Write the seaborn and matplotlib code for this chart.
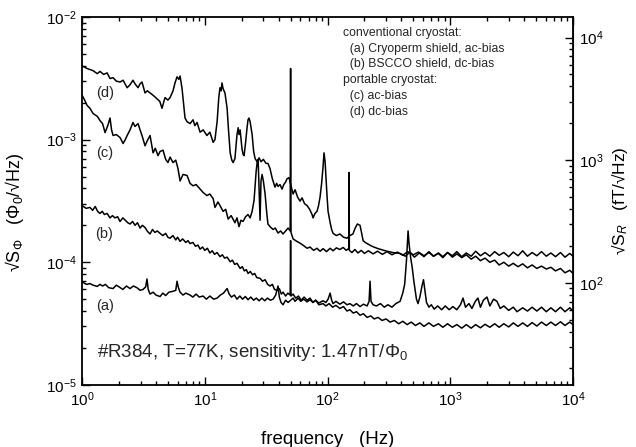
import matplotlib
matplotlib.use("Agg")
import matplotlib.pyplot as plt
import pandas as pd
import seaborn as sns

# flux noise spectra: (frequency [Hz], sqrt(S_phi) [Phi0/sqrt(Hz)])
SENS_FT = 1.47e6  # fT per Phi0 (1.47 nT/Phi0)

spec_a = [
    (1.00, 7.0e-5), (1.05, 6.7e-5), (1.10, 6.6e-5), (1.16, 6.7e-5), (1.23, 6.5e-5),
    (1.33, 6.35e-5), (1.40, 6.6e-5), (1.47, 6.4e-5), (1.55, 6.6e-5), (1.65, 6.2e-5),
    (1.79, 6.1e-5), (1.90, 6.5e-5), (2.00, 6.3e-5), (2.15, 6.0e-5), (2.30, 6.4e-5),
    (2.46, 6.1e-5), (2.62, 6.4e-5), (2.80, 6.2e-5), (2.97, 5.9e-5), (3.14, 6.0e-5),
    (3.30, 6.3e-5), (3.38, 7.3e-5), (3.46, 6.0e-5), (3.58, 5.5e-5), (3.80, 5.7e-5),
    (4.00, 5.4e-5), (4.32, 5.25e-5), (4.55, 5.6e-5), (4.80, 5.35e-5), (5.10, 5.7e-5),
    (5.51, 5.8e-5), (5.80, 5.9e-5), (5.94, 7.0e-5), (6.10, 6.2e-5), (6.29, 5.7e-5),
    (6.65, 5.4e-5), (7.00, 5.6e-5), (7.58, 5.4e-5), (8.00, 5.2e-5), (8.50, 5.5e-5),
    (9.00, 5.2e-5), (9.68, 5.3e-5), (10.3, 5.0e-5), (11.0, 5.3e-5), (11.8, 5.0e-5),
    (12.6, 5.1e-5), (13.4, 5.4e-5), (14.2, 5.6e-5), (15.2, 6.1e-5), (15.8, 5.5e-5),
    (16.5, 5.2e-5), (17.4, 5.4e-5), (18.3, 5.0e-5), (19.3, 5.3e-5), (20.3, 5.0e-5),
    (21.4, 5.25e-5), (22.5, 4.95e-5), (23.7, 5.2e-5), (25.0, 4.9e-5), (26.3, 5.1e-5),
    (27.7, 4.85e-5), (29.2, 5.1e-5), (30.8, 4.85e-5), (32.4, 5.1e-5), (34.2, 4.9e-5),
    (36.0, 5.0e-5), (37.8, 5.4e-5), (39.5, 6.4e-5), (40.5, 5.2e-5), (41.8, 4.7e-5),
    (43.4, 4.5e-5), (45.5, 4.9e-5), (47.7, 4.7e-5), (50.0, 4.9e-5), (52.4, 5.1e-5),
    (54.4, 4.8e-5), (57.5, 5.1e-5), (60.5, 4.8e-5), (64.0, 5.0e-5), (68.1, 4.75e-5),
    (72.0, 4.95e-5), (76.0, 4.7e-5), (80.0, 4.9e-5), (85.0, 4.65e-5), (91.9, 4.85e-5),
    (97.0, 4.7e-5), (101, 5.0e-5), (105, 5.6e-5), (108, 4.9e-5), (111, 4.6e-5),
    (117, 4.8e-5), (126, 4.55e-5), (135, 4.75e-5), (144, 4.5e-5), (152, 4.6e-5),
    (162, 4.4e-5), (172, 4.6e-5), (184, 4.35e-5), (196, 4.55e-5), (210, 4.4e-5),
    (218, 4.8e-5), (222, 7.0e-5), (226, 4.8e-5), (235, 4.5e-5), (250, 4.4e-5),
    (270, 4.6e-5), (290, 4.3e-5), (310, 4.5e-5), (335, 4.3e-5), (360, 4.6e-5),
    (390, 4.8e-5), (410, 5.6e-5), (425, 6.6e-5), (440, 1.05e-4), (453, 1.8e-4),
    (462, 1.4e-4), (475, 1.1e-4), (490, 9.0e-5), (505, 7.0e-5), (516, 6.0e-5),
    (530, 5.0e-5), (546, 4.6e-5), (565, 5.2e-5), (590, 6.5e-5), (605, 7.2e-5),
    (620, 6.0e-5), (640, 4.7e-5), (670, 4.3e-5), (700, 4.5e-5), (740, 4.15e-5),
    (790, 4.4e-5), (850, 4.1e-5), (910, 4.4e-5), (980, 4.1e-5), (1050, 4.35e-5),
    (1130, 4.1e-5), (1210, 4.5e-5), (1270, 5.1e-5), (1330, 4.3e-5), (1420, 4.6e-5),
    (1500, 4.2e-5), (1600, 4.8e-5), (1680, 5.1e-5), (1760, 4.3e-5), (1860, 4.9e-5),
    (1990, 5.2e-5), (2100, 4.4e-5), (2250, 5.0e-5), (2400, 4.8e-5), (2550, 4.2e-5),
    (2730, 4.4e-5), (2990, 4.05e-5), (3260, 4.3e-5), (3500, 3.95e-5), (3890, 4.25e-5),
    (4250, 4.0e-5), (4640, 4.3e-5), (5070, 4.0e-5), (5540, 4.3e-5), (6050, 3.95e-5),
    (6600, 4.25e-5), (7200, 3.95e-5), (7900, 4.3e-5), (8600, 3.95e-5), (9400, 4.25e-5),
    (10000, 4.0e-5),
]

spec_b = [
    (1.00, 2.9e-4), (1.08, 2.75e-4), (1.16, 2.8e-4), (1.22, 2.65e-4), (1.28, 2.85e-4),
    (1.34, 2.6e-4), (1.40, 2.5e-4), (1.46, 2.6e-4), (1.52, 2.45e-4), (1.60, 2.5e-4),
    (1.69, 2.3e-4), (1.77, 2.4e-4), (1.85, 2.3e-4), (1.95, 2.35e-4), (2.04, 2.15e-4),
    (2.15, 2.3e-4), (2.25, 2.2e-4), (2.36, 2.1e-4), (2.46, 2.05e-4), (2.58, 2.15e-4),
    (2.70, 2.0e-4), (2.83, 2.1e-4), (2.97, 1.9e-4), (3.10, 2.0e-4), (3.26, 1.92e-4),
    (3.42, 1.78e-4), (3.58, 1.7e-4), (3.75, 1.85e-4), (3.92, 1.75e-4), (4.10, 1.8e-4),
    (4.32, 1.72e-4), (4.55, 1.65e-4), (4.80, 1.72e-4), (5.00, 1.6e-4), (5.21, 1.57e-4),
    (5.50, 1.65e-4), (5.80, 1.52e-4), (6.00, 1.6e-4), (6.29, 1.48e-4), (6.60, 1.55e-4),
    (7.00, 1.45e-4), (7.30, 1.5e-4), (7.58, 1.42e-4), (8.00, 1.45e-4), (8.40, 1.35e-4),
    (8.80, 1.38e-4), (9.15, 1.28e-4), (9.60, 1.33e-4), (10.0, 1.25e-4), (10.5, 1.3e-4),
    (11.0, 1.19e-4), (11.5, 1.24e-4), (12.0, 1.16e-4), (12.6, 1.2e-4), (13.3, 1.11e-4),
    (13.9, 1.15e-4), (14.5, 1.08e-4), (15.2, 1.1e-4), (16.1, 1.01e-4), (16.8, 1.04e-4),
    (17.5, 9.6e-5), (18.3, 9.8e-5), (19.4, 8.9e-5), (20.2, 9.2e-5), (21.0, 8.5e-5),
    (21.8, 8.7e-5), (22.5, 8.1e-5), (23.5, 8.4e-5), (24.5, 7.9e-5), (25.5, 8.1e-5),
    (26.5, 7.5e-5), (28.2, 7.4e-5), (29.5, 7.0e-5), (31.0, 7.2e-5), (32.5, 6.6e-5),
    (34.0, 6.4e-5), (35.5, 6.6e-5), (37.0, 6.0e-5), (38.8, 5.9e-5), (40.5, 6.1e-5),
    (42.0, 5.5e-5), (43.4, 5.7e-5), (45.5, 5.3e-5), (47.5, 5.6e-5), (49.6, 5.4e-5),
    (50.0, 1.5e-4), (50.4, 5.3e-5), (52.4, 5.5e-5), (55.0, 5.1e-5), (58.0, 5.3e-5),
    (61.0, 4.9e-5), (64.5, 5.2e-5), (68.1, 4.9e-5), (72.0, 5.1e-5), (76.0, 4.7e-5),
    (80.0, 4.9e-5), (85.0, 4.5e-5), (91.9, 4.6e-5), (97.0, 4.4e-5), (103, 4.6e-5),
    (110, 4.3e-5), (117, 4.45e-5), (126, 4.2e-5), (135, 4.35e-5), (144, 4.0e-5),
    (152, 4.1e-5), (162, 3.85e-5), (172, 3.95e-5), (184, 3.7e-5), (196, 3.8e-5),
    (210, 3.55e-5), (225, 3.65e-5), (240, 3.45e-5), (258, 3.55e-5), (278, 3.35e-5),
    (300, 3.45e-5), (323, 3.25e-5), (350, 3.35e-5), (380, 3.15e-5), (410, 3.3e-5),
    (445, 3.1e-5), (480, 3.25e-5), (520, 3.05e-5), (565, 3.2e-5), (610, 3.0e-5),
    (670, 3.2e-5), (730, 3.0e-5), (800, 3.15e-5), (870, 2.95e-5), (950, 3.15e-5),
    (1040, 2.95e-5), (1130, 3.1e-5), (1240, 2.9e-5), (1350, 3.1e-5), (1480, 2.9e-5),
    (1610, 3.1e-5), (1760, 2.92e-5), (1920, 3.12e-5), (2100, 2.95e-5), (2300, 3.15e-5),
    (2500, 2.95e-5), (2730, 3.15e-5), (2990, 2.97e-5), (3260, 3.2e-5), (3560, 3.0e-5),
    (3890, 3.2e-5), (4250, 3.0e-5), (4640, 3.22e-5), (5070, 3.02e-5), (5540, 3.25e-5),
    (6050, 3.05e-5), (6600, 3.25e-5), (7200, 3.05e-5), (7900, 3.27e-5), (8600, 3.05e-5),
    (9400, 3.25e-5), (10000, 3.1e-5),
]

spec_c = [
    (1.00, 2.3e-3), (1.05, 2.1e-3), (1.10, 1.9e-3), (1.16, 1.8e-3), (1.23, 1.63e-3),
    (1.33, 1.55e-3), (1.40, 1.43e-3), (1.47, 1.35e-3), (1.54, 1.14e-3), (1.62, 1.3e-3),
    (1.69, 1.5e-3), (1.74, 1.2e-3), (1.79, 1.08e-3), (1.90, 1.1e-3), (2.04, 1.04e-3),
    (2.16, 9.3e-4), (2.25, 1.0e-3), (2.33, 1.08e-3), (2.46, 1.2e-3), (2.60, 1.38e-3),
    (2.70, 1.28e-3), (2.86, 1.35e-3), (2.97, 1.2e-3), (3.08, 1.08e-3), (3.26, 8.9e-4),
    (3.40, 9.8e-4), (3.58, 1.08e-3), (3.79, 7.8e-4), (3.95, 8.5e-4), (4.16, 7.4e-4),
    (4.32, 8.0e-4), (4.57, 8.2e-4), (4.80, 6.9e-4), (5.01, 6.5e-4), (5.21, 7.2e-4),
    (5.51, 6.5e-4), (5.80, 6.8e-4), (6.05, 5.8e-4), (6.29, 4.6e-4), (6.65, 5.2e-4),
    (7.17, 5.1e-4), (7.58, 4.4e-4), (8.02, 4.2e-4), (8.50, 4.3e-4), (9.15, 3.95e-4),
    (9.70, 3.7e-4), (10.4, 3.5e-4), (11.0, 3.6e-4), (11.7, 3.3e-4), (12.1, 2.8e-4),
    (12.8, 3.1e-4), (13.3, 2.9e-4), (14.1, 2.6e-4), (14.8, 2.7e-4), (15.5, 2.25e-4),
    (16.4, 2.4e-4), (17.6, 2.1e-4), (18.3, 2.3e-4), (19.0, 1.95e-4), (19.7, 2.2e-4),
    (20.5, 2.15e-4), (21.5, 2.35e-4), (22.5, 2.45e-4), (23.4, 2.3e-4), (24.3, 2.6e-4),
    (25.2, 3.2e-4), (25.7, 4.2e-4), (26.2, 5.5e-4), (26.7, 6.5e-4), (27.2, 6.9e-4),
    (27.7, 4.0e-4), (28.2, 2.2e-4), (28.7, 4.6e-4), (29.3, 5.2e-4), (30.0, 4.6e-4),
    (31.0, 3.6e-4), (32.0, 2.5e-4), (32.7, 2.05e-4), (34.0, 1.95e-4), (36.0, 1.85e-4),
    (37.5, 1.9e-4), (39.5, 1.73e-4), (41.5, 1.8e-4), (43.4, 1.7e-4), (45.5, 1.8e-4),
    (47.7, 1.9e-4), (49.6, 1.8e-4), (50.0, 3.8e-3), (50.4, 1.75e-4), (52.4, 1.55e-4),
    (55.0, 1.5e-4), (59.7, 1.43e-4), (63.0, 1.38e-4), (68.1, 1.3e-4), (72.0, 1.33e-4),
    (77.0, 1.25e-4), (82.0, 1.3e-4), (86.9, 1.23e-4), (92.0, 1.29e-4), (98.0, 1.22e-4),
    (105, 1.3e-4), (111, 1.24e-4), (118, 1.31e-4), (126, 1.27e-4), (134, 1.32e-4),
    (142, 1.25e-4), (149.5, 1.3e-4), (150.0, 5.4e-4), (150.5, 1.25e-4), (158, 1.2e-4),
    (167, 1.27e-4), (177, 1.19e-4), (188, 1.25e-4), (200, 1.18e-4), (215, 1.24e-4),
    (235, 1.17e-4), (255, 1.23e-4), (280, 1.16e-4), (305, 1.22e-4), (335, 1.15e-4),
    (370, 1.21e-4), (410, 1.14e-4), (450, 1.22e-4), (500, 1.15e-4), (550, 1.21e-4),
    (610, 1.13e-4), (670, 1.2e-4), (730, 1.12e-4), (800, 1.19e-4), (870, 1.11e-4),
    (950, 1.2e-4), (1040, 1.1e-4), (1130, 1.17e-4), (1240, 1.09e-4), (1350, 1.15e-4),
    (1480, 1.06e-4), (1610, 1.12e-4), (1760, 1.03e-4), (1920, 1.08e-4), (2100, 1.0e-4),
    (2300, 1.04e-4), (2500, 9.5e-5), (2730, 1.0e-4), (2990, 9.3e-5), (3260, 9.8e-5),
    (3560, 9.2e-5), (3890, 9.7e-5), (4250, 9.0e-5), (4640, 9.5e-5), (5070, 8.9e-5),
    (5540, 9.3e-5), (6050, 8.8e-5), (6600, 9.1e-5), (7200, 8.5e-5), (7900, 8.9e-5),
    (8600, 8.2e-5), (9400, 8.6e-5), (10000, 8.1e-5),
]

spec_d = [
    (1.00, 4.0e-3), (1.10, 3.8e-3), (1.23, 3.65e-3), (1.33, 3.45e-3), (1.40, 3.6e-3),
    (1.50, 3.4e-3), (1.60, 3.5e-3), (1.69, 3.15e-3), (1.79, 3.2e-3), (1.90, 3.0e-3),
    (2.04, 2.95e-3), (2.16, 3.05e-3), (2.33, 2.65e-3), (2.46, 2.8e-3), (2.60, 3.05e-3),
    (2.70, 2.85e-3), (2.86, 2.65e-3), (2.97, 2.85e-3), (3.08, 2.95e-3), (3.26, 2.4e-3),
    (3.40, 2.5e-3), (3.58, 2.4e-3), (3.79, 2.3e-3), (4.08, 2.15e-3), (4.30, 2.05e-3),
    (4.48, 1.8e-3), (4.74, 2.2e-3), (5.01, 2.1e-3), (5.21, 2.2e-3), (5.51, 2.5e-3),
    (5.72, 2.9e-3), (5.94, 3.25e-3), (6.15, 3.1e-3), (6.29, 3.3e-3), (6.53, 2.6e-3),
    (6.90, 1.5e-3), (7.17, 1.4e-3), (7.58, 1.35e-3), (8.02, 1.45e-3), (8.30, 1.3e-3),
    (8.65, 1.38e-3), (9.15, 1.15e-3), (9.70, 1.2e-3), (10.4, 1.08e-3), (11.0, 1.15e-3),
    (11.7, 9.5e-4), (12.1, 1.0e-3), (12.6, 1.4e-3), (13.0, 2.2e-3), (13.3, 2.65e-3),
    (13.6, 2.5e-3), (13.8, 2.9e-3), (14.1, 2.6e-3), (14.6, 2.4e-3), (15.2, 1.8e-3),
    (15.6, 1.2e-3), (16.1, 7.8e-4), (16.6, 6.8e-4), (17.0, 6.5e-4), (17.6, 7.0e-4),
    (18.3, 1.1e-3), (18.7, 1.25e-3), (19.0, 1.1e-3), (19.4, 1.2e-3), (20.1, 8.4e-4),
    (20.5, 7.6e-4), (20.9, 7.4e-4), (21.5, 9.5e-4), (22.1, 1.25e-3), (22.5, 1.45e-3),
    (22.9, 1.5e-3), (23.4, 1.4e-3), (24.3, 1.1e-3), (25.0, 8.0e-4), (25.7, 7.0e-4),
    (26.7, 6.6e-4), (27.7, 7.1e-4), (28.7, 6.6e-4), (30.0, 6.9e-4), (31.5, 6.4e-4),
    (32.7, 6.4e-4), (34.0, 5.8e-4), (35.5, 4.8e-4), (37.3, 4.1e-4), (38.5, 4.4e-4),
    (39.5, 4.15e-4), (41.0, 4.3e-4), (42.6, 3.95e-4), (44.0, 4.3e-4), (45.5, 4.5e-4),
    (46.8, 4.8e-4), (48.6, 4.9e-4), (49.5, 4.5e-4), (52.4, 3.6e-4), (54.4, 3.9e-4),
    (57.0, 3.4e-4), (59.7, 3.15e-4), (62.0, 3.35e-4), (65.0, 3.0e-4), (68.1, 2.9e-4),
    (71.5, 2.7e-4), (74.8, 2.45e-4), (76.2, 2.3e-4), (79.0, 2.5e-4), (82.1, 2.6e-4),
    (84.5, 2.9e-4), (86.9, 3.4e-4), (89.5, 4.4e-4), (91.9, 6.0e-4), (93.6, 7.8e-4),
    (95.5, 6.6e-4), (97.0, 5.0e-4), (99.0, 3.5e-4), (101, 2.6e-4), (105, 2.1e-4),
    (108, 1.85e-4), (111, 1.72e-4), (118, 1.65e-4), (126, 1.7e-4), (135, 1.6e-4),
    (144, 1.57e-4), (152, 1.65e-4), (161, 1.7e-4), (168, 1.9e-4), (175, 2.05e-4),
    (184, 2.0e-4), (190, 1.7e-4), (195, 1.5e-4), (203, 1.45e-4), (210, 1.42e-4),
    (230, 1.35e-4), (253, 1.3e-4), (280, 1.26e-4), (305, 1.23e-4), (340, 1.2e-4),
    (390, 1.18e-4), (430, 1.12e-4), (470, 1.21e-4), (510, 1.10e-4), (560, 1.19e-4),
    (610, 1.11e-4), (670, 1.22e-4), (730, 1.12e-4), (800, 1.18e-4), (870, 1.09e-4),
    (950, 1.20e-4), (1040, 1.13e-4), (1130, 1.22e-4), (1240, 1.11e-4), (1350, 1.19e-4),
    (1480, 1.12e-4), (1610, 1.23e-4), (1760, 1.13e-4), (1920, 1.20e-4), (2100, 1.12e-4),
    (2300, 1.22e-4), (2500, 1.14e-4), (2730, 1.20e-4), (2990, 1.11e-4), (3260, 1.21e-4),
    (3560, 1.13e-4), (3890, 1.24e-4), (4250, 1.12e-4), (4640, 1.20e-4), (5070, 1.13e-4),
    (5540, 1.22e-4), (6050, 1.12e-4), (6600, 1.19e-4), (7200, 1.11e-4), (7900, 1.20e-4),
    (8600, 1.10e-4), (9400, 1.18e-4), (10000, 1.12e-4),
]

curve_tags = ["(a)", "(b)", "(c)", "(d)"]
legend_lines = [
    "conventional cryostat:",
    "  (a) Cryoperm shield, ac-bias",
    "  (b) BSCCO shield, dc-bias",
    "portable cryostat:",
    "  (c) ac-bias",
    "  (d) dc-bias",
]
right_ticks = [1e2, 1e3, 1e4]  # fT/sqrt(Hz)

sns.set_style("ticks")
plt.rcParams['font.family'] = ['Liberation Sans', 'DejaVu Sans']
plt.rcParams['mathtext.fontset'] = 'custom'
plt.rcParams['mathtext.rm'] = 'Liberation Sans'
plt.rcParams['mathtext.it'] = 'Liberation Sans:italic'
plt.rcParams['mathtext.bf'] = 'Liberation Sans:bold'

fig = plt.figure(figsize=(6.36, 4.47), dpi=100)
ax = fig.add_axes([0.129, 0.139, 0.772, 0.823])

for spec in [spec_a, spec_b, spec_c, spec_d]:
    df = pd.DataFrame(spec, columns=["freq", "flux"])
    sns.lineplot(data=df, x="freq", y="flux", ax=ax, color="black",
                 linewidth=1.1, estimator=None, sort=False)

ax.set_xscale("log")
ax.set_yscale("log")
ax.set_xlim(1, 1e4)
ax.set_ylim(1e-5, 1e-2)

for side in ax.spines.values():
    side.set_linewidth(1.3)
    side.set_color("black")
ax.tick_params(which="both", direction="in", top=True, right=False,
               labelsize=11, colors="black", width=1.0, pad=4)
ax.tick_params(which="major", length=6)
ax.tick_params(which="minor", length=3)

ax.set_xlabel("frequency   (Hz)", fontsize=13.5, color="black")
ax.xaxis.set_label_coords(0.5, -0.125)
ax.set_ylabel("√S$_\\Phi$   (Φ$_0$/√Hz)", fontsize=13, color="black")
ax.yaxis.set_label_coords(-0.115, 0.47)

sec = ax.secondary_yaxis("right", functions=(lambda v: v * SENS_FT,
                                             lambda r: r / SENS_FT))
sec.set_yticks(right_ticks)
sec.tick_params(which="both", direction="in", labelsize=11, colors="black",
                width=1.0, pad=4)
sec.tick_params(which="major", length=6)
sec.tick_params(which="minor", length=3)
sec.set_ylabel("√S$_R$   (fT/√Hz)", fontsize=12.5, color="black", labelpad=4)

# curve tags (a)..(d)
tag_pos = [(0.047, 0.215), (0.045, 0.410), (0.047, 0.630), (0.047, 0.793)]
for tag, (tx, ty) in zip(curve_tags, tag_pos):
    ax.text(tx, ty, tag, transform=ax.transAxes, fontsize=10.5,
            ha="center", va="center")

# legend block (plain text in the original)
line_y = [0.957, 0.913, 0.872, 0.829, 0.785, 0.742]
for txt, ly in zip(legend_lines, line_y):
    ax.text(0.532, ly, txt, transform=ax.transAxes, fontsize=8.8,
            ha="left", va="center")

ax.text(0.031, 0.087, "#R384, T=77K, sensitivity: 1.47nT/Φ$_0$",
        transform=ax.transAxes, fontsize=13.5, ha="left", va="center")

fig.savefig("out.png", dpi=100)
